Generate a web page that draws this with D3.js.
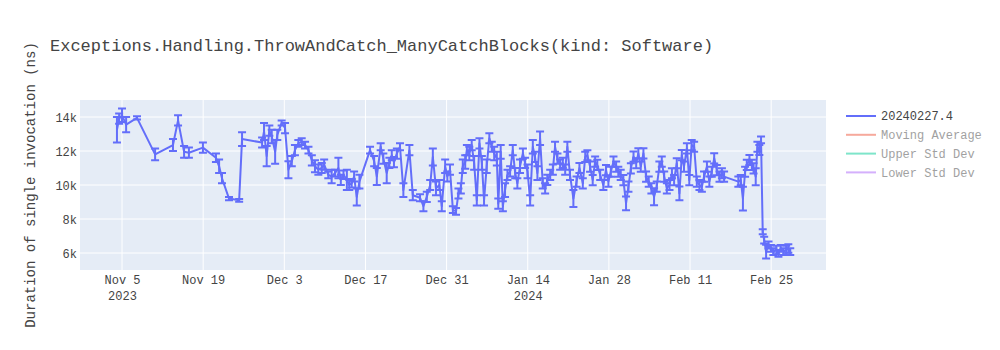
<!DOCTYPE html>
<html><head><meta charset="utf-8">
<script src="https://cdn.jsdelivr.net/npm/d3@7/dist/d3.min.js"></script>
<style>body{margin:0;background:#fff}svg{display:block}</style>
</head><body><svg id="c" width="1000" height="350"></svg>
<script>
const dates = [
"2023-11-04T03","2023-11-04T12","2023-11-05T00","2023-11-05T17","2023-11-07T14","2023-11-10T17","2023-11-13T19","2023-11-14T16","2023-11-15T17","2023-11-16T13",
"2023-11-18T23","2023-11-21T05","2023-11-21T18","2023-11-22T06","2023-11-23T11","2023-11-25T05","2023-11-25T17","2023-11-29T04","2023-11-29T12","2023-11-29T23",
"2023-11-30T10","2023-11-30T20","2023-12-01T10","2023-12-01T19","2023-12-02T13","2023-12-03T03","2023-12-03T17","2023-12-04T07","2023-12-04T20","2023-12-05T10",
"2023-12-06T00","2023-12-06T14","2023-12-07T04","2023-12-07T18","2023-12-08T07","2023-12-08T21","2023-12-09T11","2023-12-09T21","2023-12-10T14","2023-12-11T04",
"2023-12-11T18","2023-12-12T08","2023-12-12T18","2023-12-13T05","2023-12-13T19","2023-12-14T05","2023-12-14T15","2023-12-15T01","2023-12-15T12","2023-12-15T23",
"2023-12-17T19","2023-12-18T12","2023-12-18T23","2023-12-19T15","2023-12-20T02","2023-12-20T16","2023-12-21T03","2023-12-21T13","2023-12-21T22","2023-12-22T10",
"2023-12-22T23","2023-12-23T13","2023-12-24T14","2023-12-25T04","2023-12-26T10","2023-12-27T00","2023-12-27T14","2023-12-28T04","2023-12-28T15","2023-12-29T04",
"2023-12-29T18","2023-12-30T04","2023-12-30T18","2023-12-31T03","2023-12-31T14","2024-01-01T02","2024-01-01T15","2024-01-02T01","2024-01-02T11","2024-01-02T19",
"2024-01-03T05","2024-01-03T12","2024-01-03T22","2024-01-04T08","2024-01-04T18","2024-01-05T05","2024-01-05T16","2024-01-06T02","2024-01-06T11","2024-01-06T22",
"2024-01-07T09","2024-01-07T19","2024-01-08T05","2024-01-08T16","2024-01-08T22","2024-01-09T08","2024-01-09T17","2024-01-10T02","2024-01-10T12","2024-01-10T23",
"2024-01-11T10","2024-01-11T20","2024-01-12T05","2024-01-12T16","2024-01-13T04","2024-01-13T13","2024-01-13T23","2024-01-14T10","2024-01-14T21","2024-01-15T06",
"2024-01-15T16","2024-01-16T03","2024-01-16T14","2024-01-17T00","2024-01-17T09","2024-01-17T21","2024-01-18T08","2024-01-18T17","2024-01-19T03","2024-01-19T14",
"2024-01-20T01","2024-01-20T11","2024-01-20T20","2024-01-21T07","2024-01-21T21","2024-01-22T10","2024-01-22T22","2024-01-23T12","2024-01-23T22","2024-01-24T07",
"2024-01-24T18","2024-01-25T05","2024-01-25T15","2024-01-26T00","2024-01-26T12","2024-01-27T01","2024-01-27T12","2024-01-27T22","2024-01-28T08","2024-01-28T19",
"2024-01-29T06","2024-01-29T15","2024-01-30T01","2024-01-30T12","2024-01-30T23","2024-01-31T09","2024-01-31T19","2024-02-01T06","2024-02-01T17","2024-02-02T02",
"2024-02-02T12","2024-02-02T23","2024-02-03T10","2024-02-03T21","2024-02-04T08","2024-02-04T19","2024-02-05T06","2024-02-05T17","2024-02-06T03","2024-02-06T13",
"2024-02-07T00","2024-02-07T11","2024-02-07T21","2024-02-08T06","2024-02-08T17","2024-02-09T04","2024-02-09T14","2024-02-09T23","2024-02-10T11","2024-02-10T21",
"2024-02-11T07","2024-02-11T17","2024-02-12T04","2024-02-12T15","2024-02-13T01","2024-02-13T10","2024-02-13T22","2024-02-14T08","2024-02-14T18","2024-02-15T04",
"2024-02-15T15","2024-02-16T02","2024-02-16T12","2024-02-16T21","2024-02-19T08","2024-02-19T18","2024-02-20T03","2024-02-20T12","2024-02-20T19","2024-02-21T06",
"2024-02-21T16","2024-02-21T23","2024-02-22T08","2024-02-22T15","2024-02-22T23","2024-02-23T06","2024-02-23T13","2024-02-23T19","2024-02-24T03","2024-02-24T13",
"2024-02-24T23","2024-02-25T09","2024-02-25T21","2024-02-26T06","2024-02-26T16","2024-02-27T03","2024-02-27T14","2024-02-27T23","2024-02-28T07"
];
const values = [
13250,13900,14100,13550,13950,11800,12350,13800,11950,11900,
12200,11600,11100,10400,9200,9100,12700,12500,13150,11700,
13200,12850,11950,12950,13650,13350,10900,11400,12050,12450,
12550,12350,12050,11450,11100,10900,11000,11200,10600,10500,
10700,11000,10300,10600,10300,10000,10100,10500,9300,10200,
12050,11400,10500,12250,11550,10700,11300,11750,11350,11850,
12250,9700,12050,9400,9250,8750,9300,10000,11650,9800,
10000,8750,11100,10500,10900,8550,8450,9500,9800,11100,
11350,12050,11850,12350,11300,9100,12450,11300,9100,11100,
12750,12250,11850,11550,8900,11950,8750,9700,10600,10800,
12050,10700,10100,11100,11850,11300,10800,9100,12250,11650,
10700,12750,10100,9800,10300,10600,10900,12250,11550,11200,
11300,10900,12250,10600,9200,10200,11000,10100,11650,11750,
11080,10290,11370,11180,10590,10000,10880,10200,10780,11370,
11080,10780,10590,10290,8920,9900,10980,11670,11280,11860,
11080,11860,10490,10200,9800,9310,9900,11080,11370,10490,
9800,10000,10690,10290,11280,9510,11760,11080,12160,10290,
12350,12250,10200,10000,9900,10490,11080,10200,10780,11570,
10880,10490,10690,10490,10200,10290,9200,10780,11180,11470,
11180,10980,10490,12250,12060,12650,7250,6760,6080,6470,
6270,6080,6180,5980,6270,6080,6180,6270,6080
];
const errors = [
750,300,400,450,100,350,350,300,350,300,
300,250,400,300,100,80,400,300,500,600,
300,400,700,300,150,300,500,300,300,200,
200,200,200,300,350,300,300,300,200,400,
200,600,300,250,600,300,250,300,500,400,
200,300,500,200,300,600,300,300,300,300,
200,400,300,300,200,300,300,300,500,400,
300,300,400,300,300,200,200,300,300,400,
400,300,400,300,400,300,300,400,300,400,
300,300,400,400,300,400,300,400,300,300,
300,300,300,400,300,300,400,300,400,300,
400,400,300,300,300,300,300,300,300,300,
300,300,300,300,500,300,300,300,300,300,
300,300,300,300,300,300,300,300,300,300,
300,300,300,300,400,300,300,300,300,300,
300,300,300,300,300,500,300,300,300,300,
300,300,300,300,300,400,300,300,300,300,
300,300,300,300,300,300,300,300,300,300,
300,300,300,300,300,300,700,300,300,300,
300,300,500,300,300,200,150,200,400,200,
200,200,250,200,200,200,250,250,200
];
const xTickDates = ["2023-11-05","2023-11-19","2023-12-03","2023-12-17","2023-12-31","2024-01-14","2024-01-28","2024-02-11","2024-02-25"];
const xTickLabels = [["Nov 5","2023"],["Nov 19"],["Dec 3"],["Dec 17"],["Dec 31"],["Jan 14","2024"],["Jan 28"],["Feb 11"],["Feb 25"]];
const yTicks = [6000,8000,10000,12000,14000];
const yTickLabels = ["6k","8k","10k","12k","14k"];
const xRange = ["2023-10-28T18","2024-03-05T11"];
const yRange = [5000,15000];
const legendNames = ["20240227.4","Moving Average","Upper Std Dev","Lower Std Dev"];
const legendVisible = [true,false,false,false];
const titleText = "Exceptions.Handling.ThrowAndCatch_ManyCatchBlocks(kind: Software)";
const yTitleText = "Duration of single invocation (ns)";

const COLORS = ["#636EFA","#EF553B","#00CC96","#AB63FA"];
const FONT = "'Liberation Mono','Courier New',monospace";
const W = 1000, H = 350;
const M = {l:80, r:826, t:100, b:270};
const parse = d3.timeParse("%Y-%m-%dT%H");
const parseD = d3.timeParse("%Y-%m-%d");
const svg = d3.select("#c");
svg.append("rect").attr("width",W).attr("height",H).attr("fill","#fff");

const x = d3.scaleTime().domain(xRange.map(parse)).range([M.l, M.r]);
const y = d3.scaleLinear().domain(yRange).range([M.b, M.t]);

svg.append("rect").attr("x",M.l).attr("y",M.t).attr("width",M.r-M.l).attr("height",M.b-M.t).attr("fill","#E5ECF6");

// grid
const tickD = xTickDates.map(parseD);
svg.append("g").selectAll("line").data(tickD).join("line")
  .attr("x1",d=>x(d)).attr("x2",d=>x(d)).attr("y1",M.t).attr("y2",M.b)
  .attr("stroke","#fff").attr("stroke-width",1);
svg.append("g").selectAll("line").data(yTicks).join("line")
  .attr("x1",M.l).attr("x2",M.r).attr("y1",d=>y(d)).attr("y2",d=>y(d))
  .attr("stroke","#fff").attr("stroke-width",1);

// axes via d3
const xAxis = d3.axisBottom(x).tickValues(tickD).tickSize(0).tickFormat("");
const gx = svg.append("g").attr("transform",`translate(0,${M.b})`).call(xAxis);
gx.select(".domain").remove();
gx.selectAll(".tick").each(function(d,i){
  const t = d3.select(this).append("text").attr("fill","#444").attr("font-family",FONT)
    .attr("font-size",12).attr("text-anchor","middle").attr("y",14);
  xTickLabels[i].forEach((s,j)=>t.append("tspan").attr("x",0).attr("dy",j===0?0:16).text(s));
});
const yAxis = d3.axisLeft(y).tickValues(yTicks).tickSize(0).tickPadding(3).tickFormat((d,i)=>yTickLabels[i]);
const gy = svg.append("g").attr("transform",`translate(${M.l},0)`).call(yAxis);
gy.select(".domain").remove();
gy.selectAll("text").attr("fill","#444").attr("font-family",FONT).attr("font-size",12).attr("dy","0.35em");

// data
const pts = dates.map((d,i)=>({t:parse(d), v:values[i], e:errors[i]}));
const plot = svg.append("g");
const eb = plot.append("g").attr("stroke",COLORS[0]).attr("stroke-width",2).attr("fill","none");
pts.forEach(p=>{
  const cx = x(p.t), y1 = y(p.v+p.e), y2 = y(p.v-p.e);
  eb.append("path").attr("d",`M${cx},${y1}V${y2}M${cx-4},${y1}H${cx+4}M${cx-4},${y2}H${cx+4}`);
});
const line = d3.line().x(p=>x(p.t)).y(p=>y(p.v));
plot.append("path").datum(pts).attr("d",line).attr("fill","none")
  .attr("stroke",COLORS[0]).attr("stroke-width",2).attr("stroke-linejoin","round");

// title
svg.append("text").attr("x",50).attr("y",51).attr("font-family",FONT).attr("font-size",17)
  .attr("fill","#444").text(titleText);
svg.append("text").attr("transform",`translate(35,${(M.t+M.b)/2}) rotate(-90)`)
  .attr("text-anchor","middle").attr("font-family",FONT).attr("font-size",14).attr("fill","#444").text(yTitleText);

// legend
const lg = svg.append("g");
legendNames.forEach((n,i)=>{
  const ly = 116 + i*18.8;
  const g = lg.append("g").attr("opacity", legendVisible[i]?1:0.5);
  g.append("line").attr("x1",846).attr("x2",876).attr("y1",ly).attr("y2",ly)
    .attr("stroke",COLORS[i]).attr("stroke-width",2);
  g.append("text").attr("x",881).attr("y",ly).attr("dy","0.35em").attr("font-family",FONT)
    .attr("font-size",12).attr("fill","#444").text(n);
});
</script></body></html>
